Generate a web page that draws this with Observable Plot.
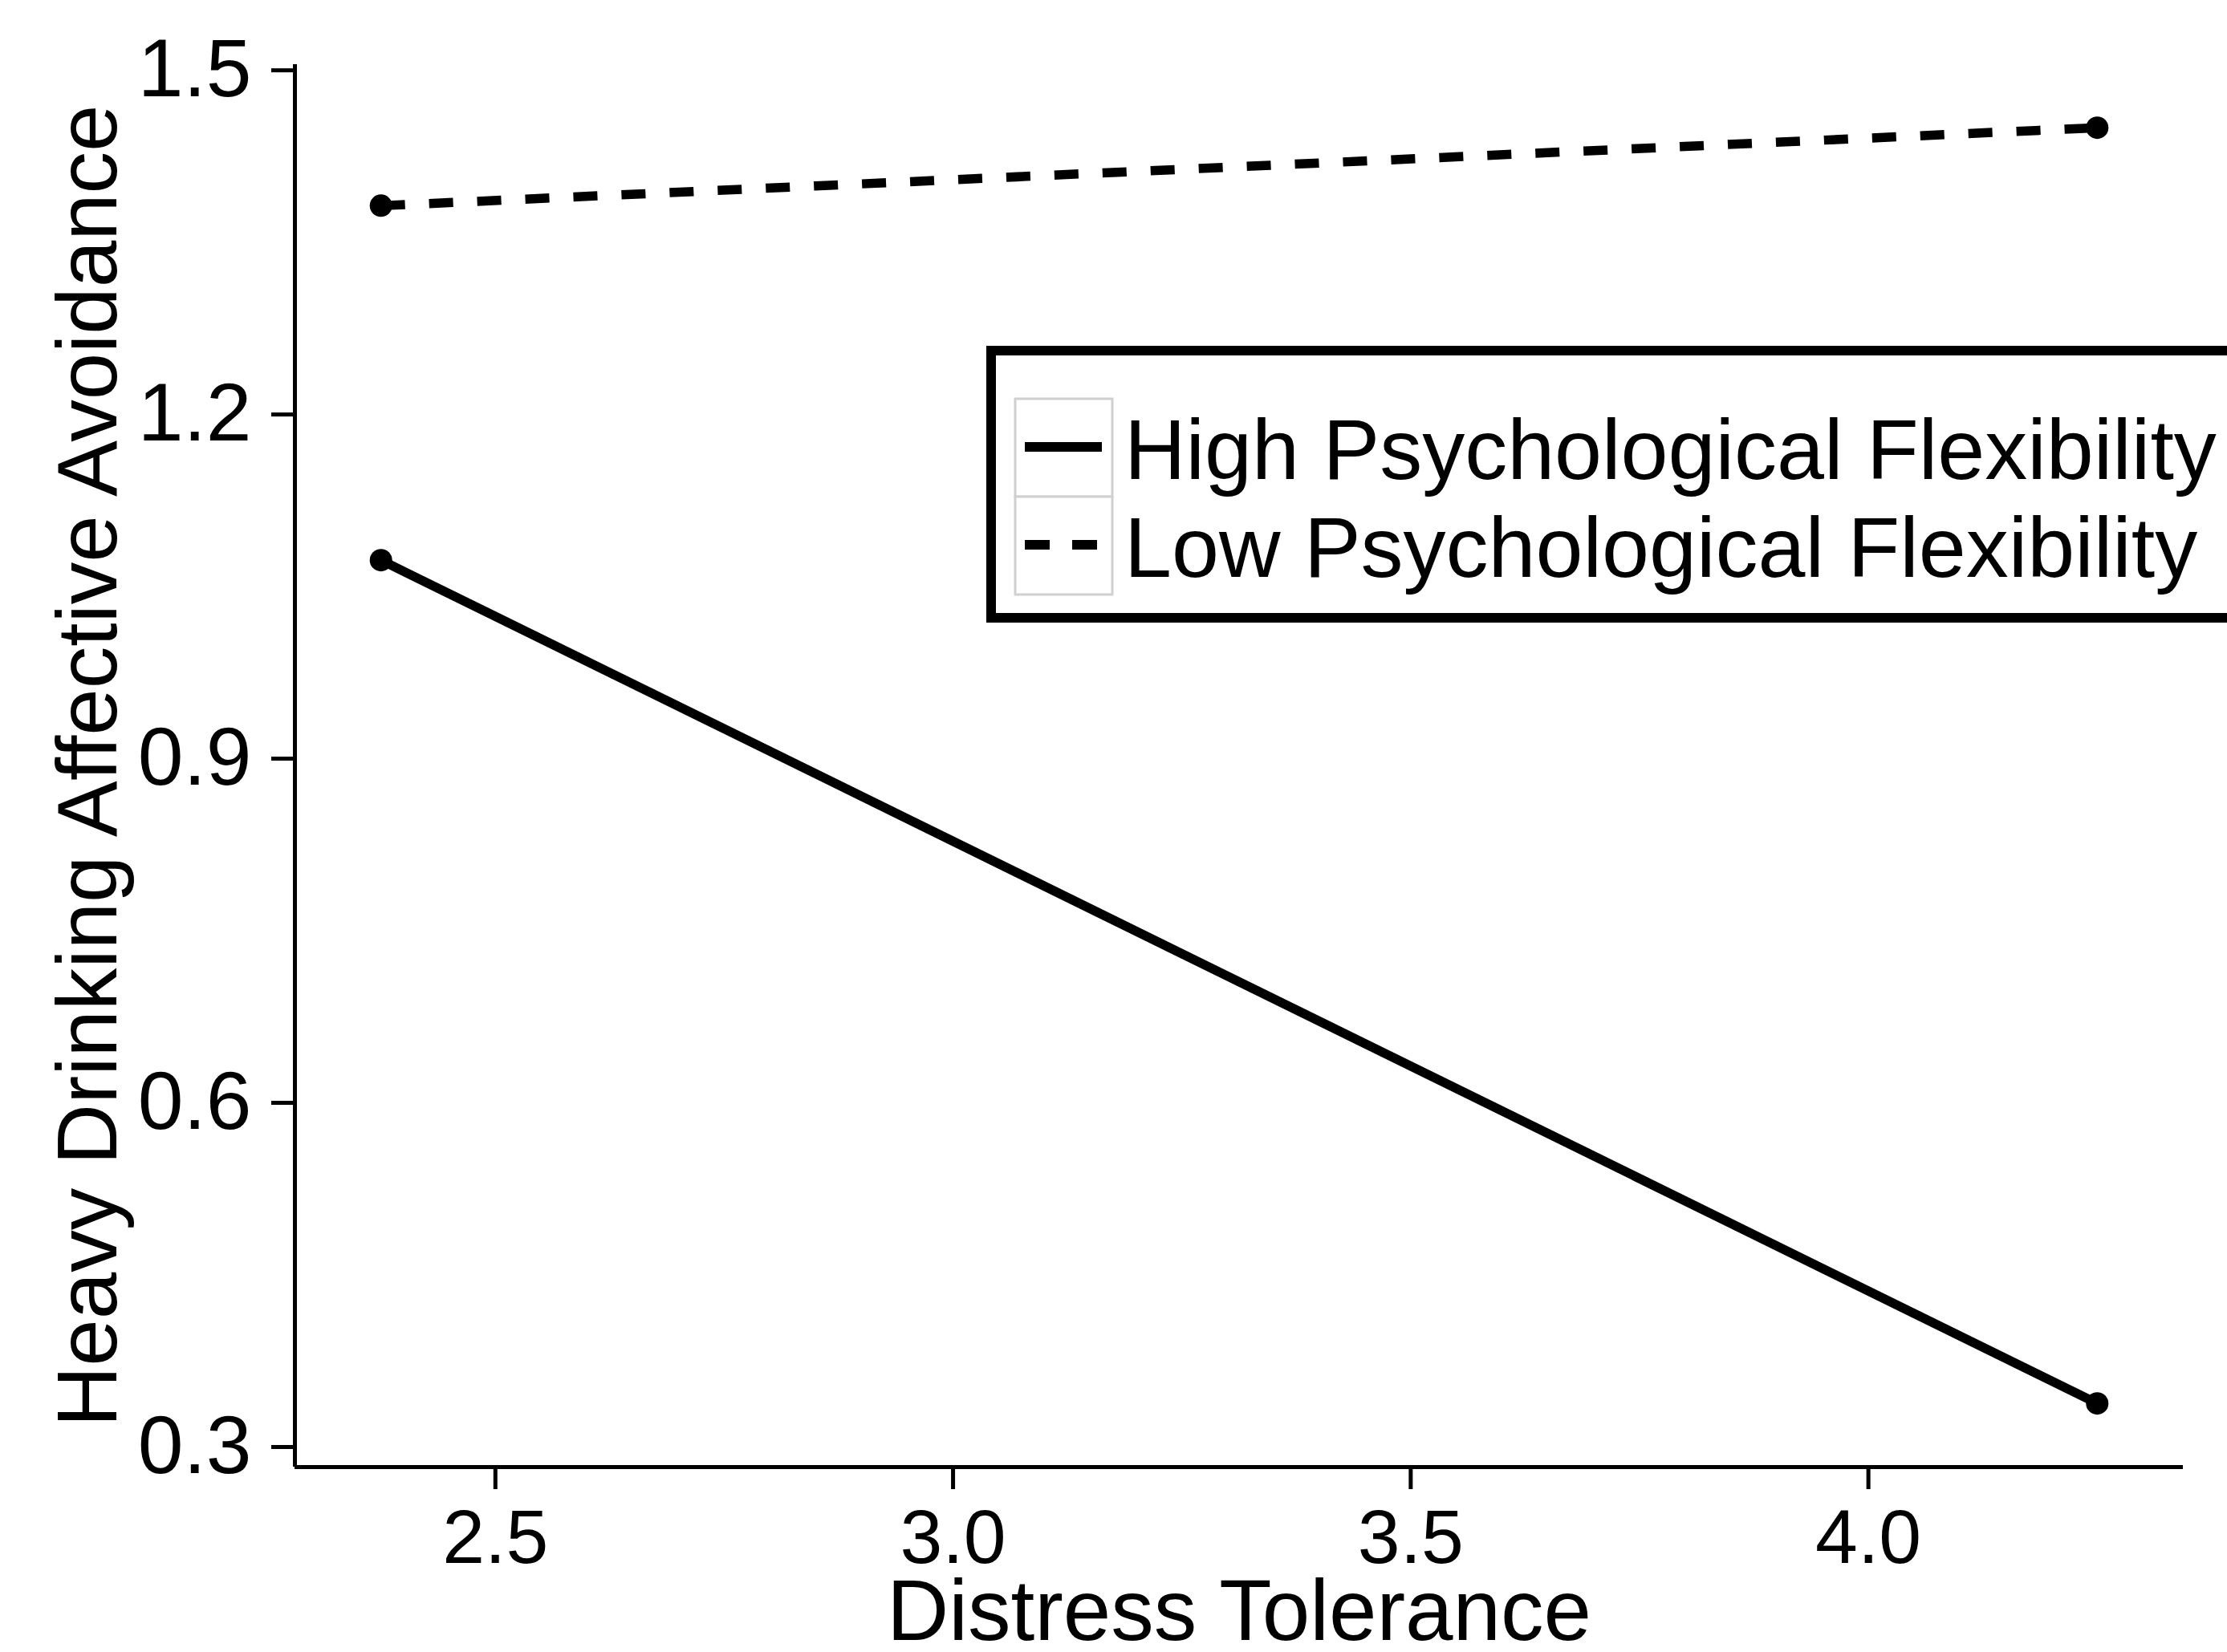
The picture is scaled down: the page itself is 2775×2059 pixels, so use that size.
<!DOCTYPE html>
<html>
<head>
<meta charset="utf-8">
<script src="https://cdn.jsdelivr.net/npm/d3@7"></script>
<script src="https://cdn.jsdelivr.net/npm/@observablehq/plot@0.6"></script>
<style>
  html, body { margin: 0; padding: 0; background: white; overflow: hidden; }
  #wrap { position: relative; width: 2775px; height: 2059px; }
  #legend { position: absolute; left: 0; top: 0; }
</style>
</head>
<body>
<div id="wrap"><div id="chart"></div><svg id="legend" width="2775" height="2059"></svg></div>
<script>
// ---- data ----
const groups = ["High Psychological Flexibility", "Low Psychological Flexibility"];
const distressTolerance = [2.375, 4.25];
const highFlexibility = [1.073, 0.338];
const lowFlexibility = [1.382, 1.450];
const xTicks = [2.5, 3.0, 3.5, 4.0];
const yTicks = [0.3, 0.6, 0.9, 1.2, 1.5];
const xDomain = [2.281, 4.344];
const yDomain = [0.2825, 1.505];
const xTitle = "Distress Tolerance";
const yTitle = "Heavy Drinking Affective Avoidance";

const seriesValues = [highFlexibility, lowFlexibility];
const rows = groups.flatMap((g, i) =>
  distressTolerance.map((x, j) => ({group: g, x, y: seriesValues[i][j]}))
);
const dashes = {[groups[0]]: null, [groups[1]]: "30,30"};

const font = "'Liberation Sans', Arial, Helvetica, sans-serif";

const plot = Plot.plot({
  width: 2775,
  height: 2059,
  marginLeft: 367,
  marginRight: 55,
  marginTop: 80,
  marginBottom: 231,
  style: {fontFamily: font, fontSize: "94px", color: "black", background: "white"},
  x: {domain: xDomain},
  y: {domain: yDomain},
  marks: [
    Plot.axisX(xTicks, {tickSize: 28, tickPadding: 24, tickFormat: d3.format(".1f"), strokeWidth: 5, color: "black", fontSize: 95, label: null}),
    Plot.axisY(yTicks, {tickSize: 29, tickPadding: 25, tickFormat: d3.format(".1f"), strokeWidth: 5, color: "black", fontSize: 102, label: null}),
    Plot.ruleX([xDomain[0]], {stroke: "black", strokeWidth: 5}),
    Plot.ruleY([yDomain[0]], {stroke: "black", strokeWidth: 5}),
    ...groups.map(g => Plot.line(rows.filter(d => d.group === g), {
      x: "x", y: "y", stroke: "black", strokeWidth: 11.5,
      strokeDasharray: dashes[g], strokeLinecap: "butt"
    })),
    Plot.dot(rows, {x: "x", y: "y", r: 14, fill: "black", stroke: "none"}),
    Plot.text([xTitle], {frameAnchor: "bottom", dy: 215, lineAnchor: "bottom", fontSize: 107, fill: "black"}),
    Plot.text([yTitle], {frameAnchor: "left", dx: -223, rotate: -90, textAnchor: "middle", lineAnchor: "bottom", fontSize: 105, fill: "black"})
  ]
});
document.getElementById("chart").appendChild(plot);

// ---- legend ----
const lg = d3.select("#legend");
lg.append("rect").attr("x", 1235).attr("y", 437).attr("width", 1800).attr("height", 333)
  .attr("fill", "white").attr("stroke", "black").attr("stroke-width", 12);
groups.forEach((g, i) => {
  const top = 497 + i * 122;
  lg.append("rect").attr("x", 1265).attr("y", top).attr("width", 121).attr("height", 122)
    .attr("fill", "white").attr("stroke", "#d0d0d0").attr("stroke-width", 3);
  lg.append("line").attr("x1", 1277).attr("x2", 1373).attr("y1", top + 60).attr("y2", top + 60)
    .attr("stroke", "black").attr("stroke-width", 12)
    .attr("stroke-dasharray", dashes[g] ? "31,28" : null);
  lg.append("text").attr("x", 1401).attr("y", top + 100)
    .attr("font-family", font).attr("font-size", 106).attr("fill", "black").text(g);
});
</script>
</body>
</html>
